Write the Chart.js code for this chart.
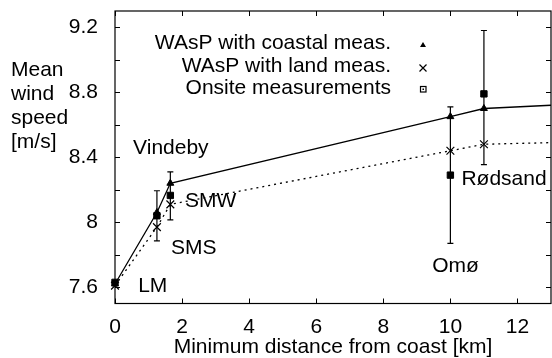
<!DOCTYPE html>
<html><head><meta charset="utf-8">
<style>html,body{margin:0;padding:0;background:#fff;}#wrap{width:552px;height:358px;}</style>
<script src="https://cdn.jsdelivr.net/npm/chart.js@4/dist/chart.umd.min.js"></script>
</head><body><div id="wrap"><canvas id="c" width="552" height="358"></canvas></div>
<script>
// ---- data ----
const distanceKm   = [0, 1.25, 1.65, 10, 11, 13];
const waspCoastal  = [7.62, 8.06, 8.24, 8.65, 8.70, 8.72];
const waspLand     = [7.61, 7.97, 8.11, 8.44, 8.48, 8.49];
const onsiteMeas   = [7.63, 8.04, 8.165, 8.29, 8.79];
const onsiteLow    = [null, 7.886, 8.015, 7.87, 8.355];
const onsiteHigh   = [null, 8.194, 8.31, 8.71, 9.18];
const xTickValues  = [0, 2, 4, 6, 8, 10, 12];
const yTickValues  = [7.6, 7.8, 8.0, 8.2, 8.4, 8.6, 8.8, 9.0, 9.2];
const yTickLabels  = ['7.6', '', '8', '', '8.4', '', '8.8', '', '9.2'];
const siteNames    = ['Vindeby', 'SMW', 'SMS', 'LM', 'Rødsand', 'Omø'];
const siteAtKm     = [0.54, 2.09, 1.67, 0.69, 10.33, 9.46];
const siteAtSpeed  = [8.454, 8.127, 7.838, 7.604, 8.263, 7.727];
const legendLabels = ['WAsP with coastal meas.', 'WAsP with land meas.', 'Onsite measurements'];
const yTitleLines  = ['Mean', 'wind', 'speed', '[m/s]'];
const xTitle       = 'Minimum distance from coast [km]';

const FONT = "'Liberation Sans', Arial, Helvetica, sans-serif";
const FS = 21;

const lastHidden = distanceKm.map((_, i) => i === distanceKm.length - 1 ? 0 : 1);
const noPad = s => { s.paddingLeft = 0; s.paddingRight = 0; s.paddingTop = 0; s.paddingBottom = 0; };

const frame = {
  id: 'frame',
  afterDatasetsDraw(chart) {
    const {ctx, chartArea: a, scales: {x, y}} = chart;
    ctx.save();
    ctx.strokeStyle = '#000';
    ctx.lineWidth = 1.2;
    ctx.strokeRect(a.left, a.top, a.right - a.left, a.bottom - a.top);
    ctx.lineWidth = 1;
    const tl = 5;
    ctx.beginPath();
    xTickValues.forEach(v => {
      const px = Math.round(x.getPixelForValue(v)) + 0.5;
      ctx.moveTo(px, a.bottom); ctx.lineTo(px, a.bottom - tl);
      ctx.moveTo(px, a.top); ctx.lineTo(px, a.top + tl);
    });
    yTickValues.forEach(v => {
      const py = Math.round(y.getPixelForValue(v)) + 0.5;
      ctx.moveTo(a.left, py); ctx.lineTo(a.left + tl, py);
      ctx.moveTo(a.right, py); ctx.lineTo(a.right - tl, py);
    });
    ctx.stroke();
    ctx.restore();
  }
};

const errorBars = {
  id: 'errorBars',
  beforeDatasetsDraw(chart) {
    const {ctx, scales: {x, y}} = chart;
    ctx.save();
    ctx.strokeStyle = '#000';
    ctx.lineWidth = 1.2;
    ctx.beginPath();
    onsiteMeas.forEach((_, i) => {
      if (onsiteLow[i] == null) return;
      const px = x.getPixelForValue(distanceKm[i]);
      const y1 = y.getPixelForValue(onsiteLow[i]);
      const y2 = y.getPixelForValue(onsiteHigh[i]);
      ctx.moveTo(px, y1); ctx.lineTo(px, y2);
      ctx.moveTo(px - 3, y1); ctx.lineTo(px + 3, y1);
      ctx.moveTo(px - 3, y2); ctx.lineTo(px + 3, y2);
    });
    ctx.stroke();
    ctx.restore();
  }
};

const texts = {
  id: 'texts',
  afterDraw(chart) {
    const {ctx, scales: {x, y}} = chart;
    ctx.save();
    ctx.fillStyle = '#000';
    ctx.font = FS + 'px ' + FONT;
    ctx.textBaseline = 'middle';
    ctx.textAlign = 'left';
    siteNames.forEach((n, i) => {
      ctx.fillText(n, x.getPixelForValue(siteAtKm[i]), y.getPixelForValue(siteAtSpeed[i]));
    });
    yTitleLines.forEach((t, i) => ctx.fillText(t, 11, 70 + i * 24));
    ctx.textAlign = 'right';
    const rows = [43, 66, 88];
    legendLabels.forEach((t, i) => ctx.fillText(t, 391, rows[i]));
    const sx = 423;
    ctx.strokeStyle = '#000';
    ctx.lineWidth = 1.2;
    ctx.beginPath();
    ctx.moveTo(sx, rows[0] - 1); ctx.lineTo(sx + 3, rows[0] + 4); ctx.lineTo(sx - 3, rows[0] + 4); ctx.closePath();
    ctx.fill();
    ctx.beginPath();
    ctx.moveTo(sx - 3.5, rows[1] - 1.5); ctx.lineTo(sx + 3.5, rows[1] + 5.5);
    ctx.moveTo(sx + 3.5, rows[1] - 1.5); ctx.lineTo(sx - 3.5, rows[1] + 5.5);
    ctx.stroke();
    ctx.strokeRect(sx - 2.5, rows[2] - 1.5, 5.5, 5.5);
    ctx.fillRect(sx - 0.5, rows[2] + 0.5, 1.5, 1.5);
    ctx.restore();
  }
};

new Chart(document.getElementById('c'), {
  type: 'scatter',
  data: {
    datasets: [
      {
        label: legendLabels[0],
        data: distanceKm.map((d, i) => ({x: d, y: waspCoastal[i]})),
        showLine: true,
        borderColor: '#000', backgroundColor: '#000', borderWidth: 1.3,
        pointStyle: 'triangle', pointRadius: lastHidden.map(k => k * 4), pointBorderWidth: 1,
        clip: 8
      },
      {
        label: legendLabels[1],
        data: distanceKm.map((d, i) => ({x: d, y: waspLand[i]})),
        showLine: true, borderDash: [2, 4],
        borderColor: '#000', backgroundColor: '#000', borderWidth: 1.3,
        pointStyle: 'crossRot', pointRadius: lastHidden.map(k => k * 5.5), pointBorderWidth: 1.2,
        clip: 8
      },
      {
        label: legendLabels[2],
        data: onsiteMeas.map((v, i) => ({x: distanceKm[i], y: v})),
        showLine: false,
        borderColor: '#000', backgroundColor: '#000',
        pointStyle: 'rect', pointRadius: 4.5, pointBorderWidth: 1,
        clip: 8
      }
    ]
  },
  options: {
    responsive: false, animation: false, devicePixelRatio: 1,
    layout: {autoPadding: false, padding: {top: 11, right: 1, left: 0, bottom: 0}},
    plugins: {legend: {display: false}, tooltip: {enabled: false}},
    scales: {
      x: {
        type: 'linear', min: 0, max: 13,
        afterBuildTicks: s => { s.ticks = xTickValues.map(v => ({value: v})); },
        afterFit: s => { s.height = 54.5; noPad(s); },
        grid: {display: false, drawTicks: false}, border: {display: false},
        ticks: {color: '#000', font: {family: FONT, size: FS}, padding: 11, maxRotation: 0, autoSkip: false,
                callback: v => String(v)},
        title: {display: true, text: xTitle, color: '#000', font: {family: FONT, size: FS, lineHeight: 1}, padding: 0}
      },
      y: {
        type: 'linear', min: 7.5, max: 9.3,
        afterBuildTicks: s => { s.ticks = yTickValues.map(v => ({value: v})); },
        afterFit: s => { s.width = 115; noPad(s); },
        grid: {display: false, drawTicks: false}, border: {display: false},
        ticks: {color: '#000', font: {family: FONT, size: FS}, padding: 17, autoSkip: false,
                callback: (v, i) => yTickLabels[i]}
      }
    }
  },
  plugins: [errorBars, frame, texts]
});
</script>
</body></html>
